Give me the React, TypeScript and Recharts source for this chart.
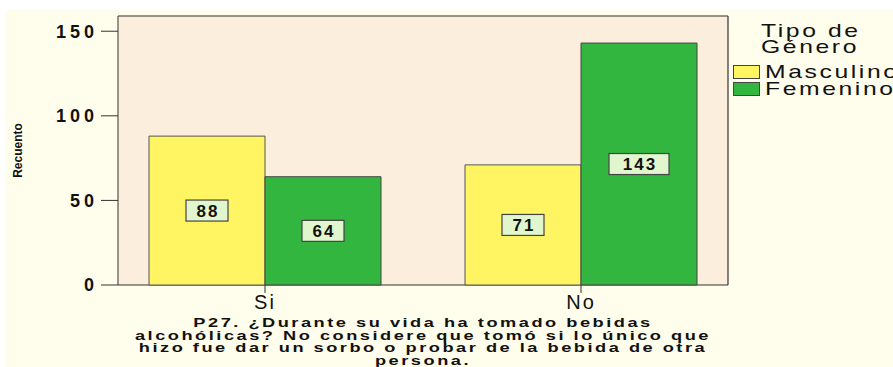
import {
  Bar,
  BarChart,
  CartesianGrid,
  LabelList,
  XAxis,
  YAxis,
} from "recharts";

const categories = ["Si", "No"];
const masculino = [88, 71];
const femenino = [64, 143];
const yTicks = [0, 50, 100, 150];
const legendTitle = ["Tipo de", "Género"];
const seriesNames = ["Masculino", "Femenino"];
const xTitle = [
  "P27. ¿Durante su vida ha tomado bebidas",
  "alcohólicas? No considere que tomó si lo único que",
  "hizo fue dar un sorbo o probar de la bebida de otra",
  "persona.",
];

const data = categories.map((c, i) => ({
  cat: c,
  masc: masculino[i],
  fem: femenino[i],
}));

const YELLOW = "#FFF563";
const GREEN = "#33B63F";
const FONT = "'Liberation Sans', Arial, sans-serif";

const BoxLabel = (props: any) => {
  const { x, y, width, height, value } = props;
  const s = String(value);
  const w = s.length * 18 + 6;
  const h = 21;
  const cx = x + width / 2;
  const cy = y + height / 2;
  return (
    <g>
      <rect
        x={cx - w / 2}
        y={cy - h / 2}
        width={w}
        height={h}
        fill="#E2F6CE"
        stroke="#444"
        strokeWidth={1.2}
      />
      <text
        x={cx + 1}
        y={cy + 6}
        textAnchor="middle"
        fontFamily={FONT}
        fontSize={17}
        fontWeight="bold"
        letterSpacing={2}
        fill="#111"
      >
        {s}
      </text>
    </g>
  );
};

// frame of the plot area: top, bottom and right edges
const frameRows = ({ offset }: any) => [offset.top, offset.top + offset.height];
const frameCols = ({ offset }: any) => [offset.left + offset.width];

const App = () => {
  return (
    <div
      style={{
        position: "absolute",
        left: 0,
        top: 0,
        width: 893,
        height: 367,
        background: "#fff",
        overflow: "hidden",
      }}
    >
      <div
        style={{
          position: "absolute",
          left: 5,
          top: 10,
          width: 888,
          height: 357,
          background: "#FFFDEB",
          overflow: "hidden",
        }}
      >
        <BarChart
          width={888}
          height={357}
          data={data}
          margin={{ top: 6, right: 165, bottom: 52, left: 0 }}
          barGap={0}
          barSize={116}
        >
          <CartesianGrid
            fill="#FCEEDC"
            stroke="#333"
            strokeWidth={1.2}
            horizontalCoordinatesGenerator={frameRows}
            verticalCoordinatesGenerator={frameCols}
          />
          <XAxis
            dataKey="cat"
            height={30}
            tickSize={8}
            tickMargin={2}
            axisLine={false}
            padding={{ left: -11, right: -11 }}
            stroke="#333"
            tick={{
              fill: "#111",
              fontSize: 20,
              fontFamily: FONT,
              letterSpacing: 2,
            }}
          />
          <YAxis
            width={113}
            domain={[0, 159]}
            ticks={yTicks}
            tickSize={17}
            tickMargin={3}
            stroke="#333"
            tick={{
              fill: "#111",
              fontSize: 18,
              fontWeight: "bold",
              fontFamily: FONT,
              letterSpacing: 4,
            }}
            label={{
              value: "Recuento",
              angle: -90,
              position: "insideLeft",
              offset: 13,
              style: {
                fontSize: 12,
                fontWeight: "bold",
                fontFamily: FONT,
                fill: "#111",
                textAnchor: "middle",
              },
            }}
          />
          <Bar
            dataKey="masc"
            fill={YELLOW}
            stroke="#555"
            strokeWidth={1}
            isAnimationActive={false}
          >
            <LabelList dataKey="masc" content={BoxLabel} />
          </Bar>
          <Bar
            dataKey="fem"
            fill={GREEN}
            stroke="#444"
            strokeWidth={1}
            isAnimationActive={false}
          >
            <LabelList dataKey="fem" content={BoxLabel} />
          </Bar>
        </BarChart>
        <div
          style={{
            position: "absolute",
            left: 113,
            width: 610,
            top: 307,
            textAlign: "center",
            fontFamily: FONT,
            fontWeight: "bold",
            fontSize: 13,
            lineHeight: "12.5px",
            letterSpacing: 1.8,
            color: "#111",
            transform: "scaleX(1.4)",
            transformOrigin: "50% 0",
          }}
        >
          {xTitle.map((t) => (
            <div key={t} style={{ whiteSpace: "nowrap" }}>
              {t}
            </div>
          ))}
        </div>
        <div
          style={{
            position: "absolute",
            left: 756,
            top: 13,
            fontFamily: FONT,
            fontSize: 19,
            lineHeight: "16px",
            letterSpacing: 2,
            color: "#111",
            whiteSpace: "nowrap",
            transform: "scaleX(1.3)",
            transformOrigin: "0 0",
          }}
        >
          {legendTitle.map((t) => (
            <div key={t}>{t}</div>
          ))}
        </div>
        {seriesNames.map((n, i) => (
          <div
            key={n}
            style={{
              position: "absolute",
              left: 728,
              top: 54 + i * 17,
              display: "flex",
              alignItems: "center",
              whiteSpace: "nowrap",
              fontFamily: FONT,
              fontSize: 19,
              lineHeight: "16px",
              color: "#111",
            }}
          >
            <span
              style={{
                display: "inline-block",
                width: 25,
                height: 12,
                background: i === 0 ? YELLOW : GREEN,
                border: "1px solid #444",
                marginRight: 5,
              }}
            />
            <span
              style={{
                display: "inline-block",
                letterSpacing: 2,
                transform: "scaleX(1.3)",
                transformOrigin: "0 50%",
              }}
            >
              {n}
            </span>
          </div>
        ))}
      </div>
    </div>
  );
};

export default App;
